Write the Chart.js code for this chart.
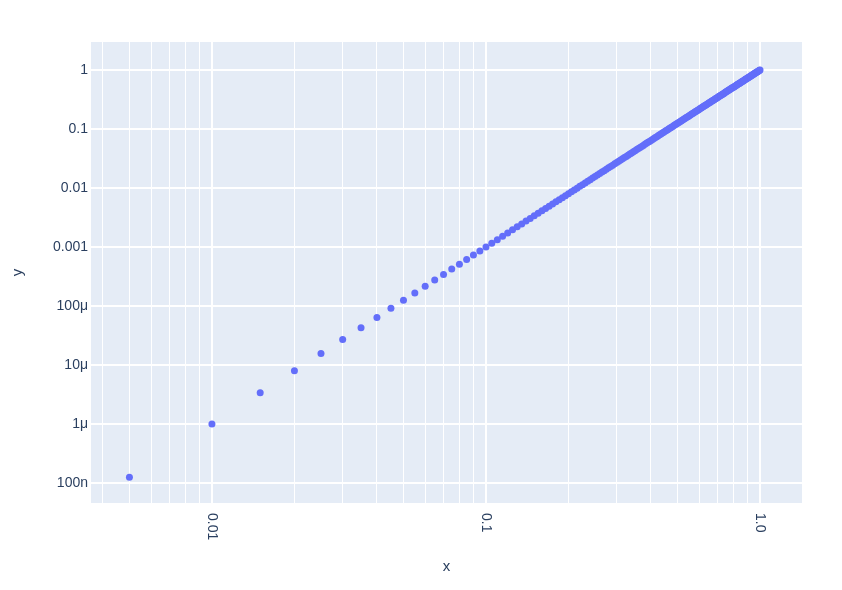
<!DOCTYPE html>
<html>
<head>
<meta charset="utf-8">
<title>y vs x</title>
<script src="https://cdn.jsdelivr.net/npm/chart.js@4.4.1/dist/chart.umd.min.js"></script>
<style>
  body { margin: 0; background: #fff; }
  canvas { display: block; }
</style>
</head>
<body>
<canvas id="chart" width="842" height="590"></canvas>
<script>
// x values of the markers
const xValues = [
  0.005, 0.01, 0.015, 0.02, 0.025, 0.03, 0.035, 0.04, 0.045, 0.05,
  0.055, 0.06, 0.065, 0.07, 0.075, 0.08, 0.085, 0.09, 0.095, 0.1,
  0.105, 0.11, 0.115, 0.12, 0.125, 0.13, 0.135, 0.14, 0.145, 0.15,
  0.155, 0.16, 0.165, 0.17, 0.175, 0.18, 0.185, 0.19, 0.195, 0.2,
  0.205, 0.21, 0.215, 0.22, 0.225, 0.23, 0.235, 0.24, 0.245, 0.25,
  0.255, 0.26, 0.265, 0.27, 0.275, 0.28, 0.285, 0.29, 0.295, 0.3,
  0.305, 0.31, 0.315, 0.32, 0.325, 0.33, 0.335, 0.34, 0.345, 0.35,
  0.355, 0.36, 0.365, 0.37, 0.375, 0.38, 0.385, 0.39, 0.395, 0.4,
  0.405, 0.41, 0.415, 0.42, 0.425, 0.43, 0.435, 0.44, 0.445, 0.45,
  0.455, 0.46, 0.465, 0.47, 0.475, 0.48, 0.485, 0.49, 0.495, 0.5,
  0.505, 0.51, 0.515, 0.52, 0.525, 0.53, 0.535, 0.54, 0.545, 0.55,
  0.555, 0.56, 0.565, 0.57, 0.575, 0.58, 0.585, 0.59, 0.595, 0.6,
  0.605, 0.61, 0.615, 0.62, 0.625, 0.63, 0.635, 0.64, 0.645, 0.65,
  0.655, 0.66, 0.665, 0.67, 0.675, 0.68, 0.685, 0.69, 0.695, 0.7,
  0.705, 0.71, 0.715, 0.72, 0.725, 0.73, 0.735, 0.74, 0.745, 0.75,
  0.755, 0.76, 0.765, 0.77, 0.775, 0.78, 0.785, 0.79, 0.795, 0.8,
  0.805, 0.81, 0.815, 0.82, 0.825, 0.83, 0.835, 0.84, 0.845, 0.85,
  0.855, 0.86, 0.865, 0.87, 0.875, 0.88, 0.885, 0.89, 0.895, 0.9,
  0.905, 0.91, 0.915, 0.92, 0.925, 0.93, 0.935, 0.94, 0.945, 0.95,
  0.955, 0.96, 0.965, 0.97, 0.975, 0.98, 0.985, 0.99, 0.995, 1.0
];

// y values of the markers
const yValues = [
  1.25e-7, 1e-6, 3.375e-6, 8e-6, 1.5625e-5, 2.7e-5, 4.2875e-5, 6.4e-5, 9.1125e-5, 1.25e-4,
  1.664e-4, 2.16e-4, 2.746e-4, 3.43e-4, 4.219e-4, 5.12e-4, 6.141e-4, 7.29e-4, 8.574e-4, 1e-3,
  1.158e-3, 1.331e-3, 1.521e-3, 1.728e-3, 1.953e-3, 2.197e-3, 2.460e-3, 2.744e-3, 3.049e-3, 3.375e-3,
  3.724e-3, 4.096e-3, 4.492e-3, 4.913e-3, 5.359e-3, 5.832e-3, 6.332e-3, 6.859e-3, 7.415e-3, 8e-3,
  8.615e-3, 9.261e-3, 9.938e-3, 0.01065, 0.01139, 0.01217, 0.01298, 0.01382, 0.01471, 0.01563,
  0.01658, 0.01758, 0.01861, 0.01968, 0.0208, 0.02195, 0.02315, 0.02439, 0.02567, 0.027,
  0.02837, 0.02979, 0.03126, 0.03277, 0.03433, 0.03594, 0.0376, 0.0393, 0.04106, 0.04288,
  0.04474, 0.04666, 0.04863, 0.05065, 0.05273, 0.05487, 0.05707, 0.05932, 0.06163, 0.064,
  0.06643, 0.06892, 0.07147, 0.07409, 0.07677, 0.07951, 0.08231, 0.08518, 0.08812, 0.09113,
  0.0942, 0.09734, 0.1005, 0.1038, 0.1072, 0.1106, 0.1141, 0.1176, 0.1213, 0.125,
  0.1288, 0.1327, 0.1366, 0.1406, 0.1447, 0.1489, 0.1531, 0.1575, 0.1619, 0.1664,
  0.171, 0.1756, 0.1804, 0.1852, 0.1901, 0.1951, 0.2002, 0.2054, 0.2106, 0.216,
  0.2214, 0.227, 0.2326, 0.2383, 0.2441, 0.25, 0.256, 0.2621, 0.2683, 0.2746,
  0.281, 0.2875, 0.2941, 0.3008, 0.3075, 0.3144, 0.3214, 0.3285, 0.3357, 0.343,
  0.3504, 0.3579, 0.3655, 0.3732, 0.3811, 0.389, 0.3971, 0.4052, 0.4135, 0.4219,
  0.4304, 0.439, 0.4477, 0.4565, 0.4655, 0.4746, 0.4837, 0.493, 0.5025, 0.512,
  0.5217, 0.5314, 0.5413, 0.5514, 0.5615, 0.5718, 0.5822, 0.5927, 0.6034, 0.6141,
  0.625, 0.6361, 0.6472, 0.6585, 0.6699, 0.6815, 0.6932, 0.705, 0.7169, 0.729,
  0.7412, 0.7536, 0.7661, 0.7787, 0.7915, 0.8044, 0.8174, 0.8306, 0.8439, 0.8574,
  0.871, 0.8847, 0.8986, 0.9127, 0.9269, 0.9412, 0.9557, 0.9703, 0.9851, 1
];

// gridline positions on x (decades + minor digits)
const xGridValues = [
  0.004, 0.005, 0.006, 0.007, 0.008, 0.009,
  0.01, 0.02, 0.03, 0.04, 0.05, 0.06, 0.07, 0.08, 0.09,
  0.1, 0.2, 0.3, 0.4, 0.5, 0.6, 0.7, 0.8, 0.9, 1.0
];
const xTickValues = [0.01, 0.1, 1.0];
const xTickLabels = ['0.01', '0.1', '1.0'];

const yTickValues = [1e-7, 1e-6, 1e-5, 1e-4, 1e-3, 0.01, 0.1, 1];
const yTickLabels = ['100n', '1μ', '10μ', '100μ', '0.001', '0.01', '0.1', '1'];

const fontFamily = '"Liberation Sans", Arial, sans-serif';
const textColor = '#2a3f5f';

const points = xValues.map((x, i) => ({ x: x, y: yValues[i] }));

const plotBackground = {
  id: 'plotBackground',
  beforeDraw(chart) {
    const { ctx, chartArea } = chart;
    ctx.save();
    ctx.fillStyle = '#e5ecf6';
    ctx.fillRect(chartArea.left, chartArea.top, chartArea.right - chartArea.left, chartArea.bottom - chartArea.top);
    ctx.restore();
  }
};

// x labels are rotated clockwise, which chart.js can't do itself
const xLabels = {
  id: 'xLabels',
  afterDraw(chart) {
    const { ctx, chartArea } = chart;
    const xs = chart.scales.x;
    ctx.save();
    ctx.fillStyle = textColor;
    ctx.font = '14px ' + fontFamily;
    ctx.textAlign = 'left';
    ctx.textBaseline = 'middle';
    xTickValues.forEach((v, i) => {
      const px = xs.getPixelForValue(v);
      ctx.save();
      ctx.translate(px, chartArea.bottom + 10);
      ctx.rotate(Math.PI / 2);
      ctx.fillText(xTickLabels[i], 0, 0);
      ctx.restore();
    });
    ctx.restore();
  }
};

new Chart(document.getElementById('chart'), {
  type: 'scatter',
  data: {
    datasets: [{
      data: points,
      backgroundColor: '#636efa',
      borderWidth: 0,
      pointRadius: 3.5,
      pointHoverRadius: 3.5
    }]
  },
  options: {
    responsive: false,
    animation: false,
    layout: { padding: { top: 42, right: 40, left: 0, bottom: 0 } },
    plugins: {
      legend: { display: false },
      tooltip: { enabled: false }
    },
    scales: {
      x: {
        type: 'logarithmic',
        min: 0.00362,
        max: 1.423,
        afterBuildTicks: s => { s.ticks = xGridValues.map(v => ({ value: v })); },
        afterFit: s => { s.height = 87; },
        ticks: { display: false, autoSkip: false },
        grid: {
          color: '#ffffff',
          lineWidth: c => (c.tick && xTickValues.includes(c.tick.value)) ? 2 : 1,
          drawTicks: false
        },
        border: { display: false },
        title: {
          display: true,
          text: 'x',
          color: textColor,
          font: { size: 15, family: fontFamily },
          padding: { top: 0, bottom: 14 }
        }
      },
      y: {
        type: 'logarithmic',
        min: 4.58e-8,
        max: 2.98,
        afterBuildTicks: s => { s.ticks = yTickValues.map(v => ({ value: v })); },
        afterFit: s => { s.width = 91; },
        ticks: {
          autoSkip: false,
          padding: 3,
          color: textColor,
          font: { size: 14, family: fontFamily },
          callback: (value, index) => yTickLabels[index]
        },
        grid: { color: '#ffffff', lineWidth: 2, drawTicks: false },
        border: { display: false },
        title: {
          display: true,
          text: 'y',
          color: textColor,
          font: { size: 15, family: fontFamily },
          padding: { top: 9, bottom: 0 }
        }
      }
    }
  },
  plugins: [plotBackground, xLabels]
});
</script>
</body>
</html>
